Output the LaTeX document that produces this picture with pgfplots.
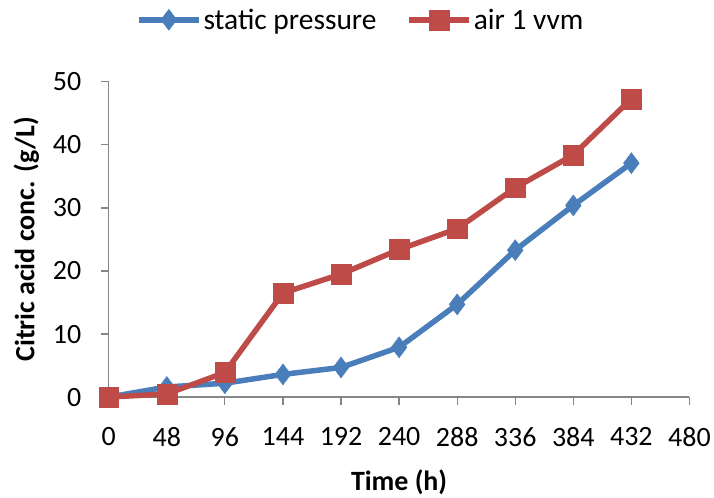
\documentclass[border=0pt]{standalone}
\usepackage{fontspec}
\setmainfont{Carlito}
\usepackage{pgfplots}
\pgfplotsset{compat=1.18}
\definecolor{xblue}{HTML}{4A7EBB}
\definecolor{xred}{HTML}{BE4B48}
\definecolor{axgray}{HTML}{868686}
\begin{document}
\begin{tikzpicture}[x=1pt,y=1pt]
\begin{axis}[
  scale only axis,
  width=582pt, height=316pt,
  xmin=0, xmax=480, ymin=0, ymax=50,
  xtick={0,48,...,480}, ytick={0,10,...,50},
  axis lines*=left,
  axis line style={axgray, line width=1.2pt, -},
  tick style={axgray, line width=1.2pt},
  tick align=outside,
  major tick length=8pt,
  clip=false,
  tick label style={font=\fontsize{28}{30}\selectfont, black},
  /pgf/number format/assume math mode=true,
  xticklabel style={yshift=-19pt},
  yticklabel style={xshift=-16pt},
  xlabel={\textbf{Time (h)}},
  ylabel={\textbf{Citric acid conc. (g/L)}},
  label style={font=\fontsize{28}{30}\selectfont},
  xlabel style={yshift=-16pt},
  ylabel style={yshift=7pt},
  legend columns=2,
  legend style={at={(0.434,1.0)}, anchor=south, yshift=47pt, draw=none, fill=none,
    font=\fontsize{29.5}{31}\selectfont, /tikz/every even column/.append style={column sep=28pt}},
  legend image code/.code={\draw[#1, mark repeat=2, mark phase=2] plot coordinates {(0pt,0pt) (30pt,0pt) (60pt,0pt)};},
]
\addplot[xblue, line width=5.5pt, mark=diamond*, mark size=10.5pt, mark options={solid, fill=xblue, line width=0.5pt}]
 coordinates {(0,0) (48,1.6) (96,2.2) (144,3.6) (192,4.7) (240,7.9) (288,14.7) (336,23.3) (384,30.4) (432,37.1)};
\addlegendentry{static pressure}
\addplot[xred, line width=5.5pt, mark=square*, mark size=10pt, mark options={solid, fill=xred, line width=0.5pt}]
 coordinates {(0,0) (48,0.5) (96,3.9) (144,16.5) (192,19.5) (240,23.4) (288,26.7) (336,33.2) (384,38.4) (432,47.3)};
\addlegendentry{air 1 vvm}
\end{axis}
\useasboundingbox ([xshift=-109pt,yshift=-99pt]current axis.south west) rectangle ([xshift=23pt,yshift=82pt]current axis.north east);
\end{tikzpicture}
\end{document}
